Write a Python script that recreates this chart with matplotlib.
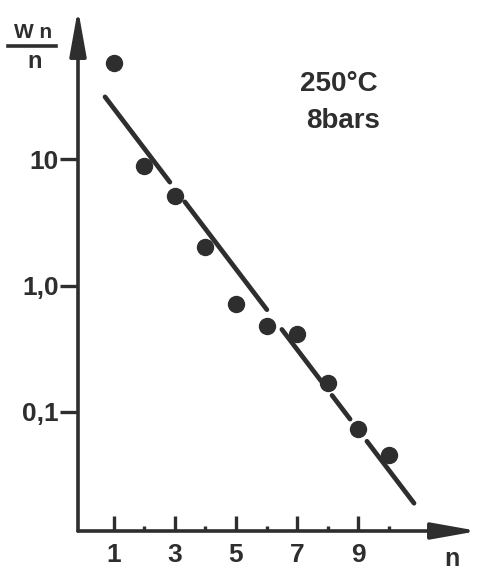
import numpy as np
import matplotlib.pyplot as plt

# measured points  Wn/n  vs  n
n_vals = [1, 2, 3, 4, 5, 6, 7, 8, 9, 10]
wn_vals = [57.0, 8.8, 5.1, 2.0, 0.71, 0.48, 0.41, 0.17, 0.073, 0.046]

# fitted straight line (log scale), drawn with gaps where it crosses the dots
fit_n = [0.72, 10.82]
fit_w = [31.0, 0.019]
fit_pieces = [(0.72, 2.84), (3.33, 6.01), (6.50, 7.78), (8.14, 8.73), (9.28, 10.82)]

x_major = [1, 3, 5, 7, 9]
x_minor = [2, 4, 6, 8, 10]
y_ticks = [0.1, 1, 10]
y_labels = ["0,1", "1,0", "10"]

INK = "#2e2e2e"
FONT = "Liberation Sans"

fig = plt.figure(figsize=(4.81, 5.73), dpi=100)
ax = fig.add_axes([78 / 481, 42 / 573, 400 / 481, 522 / 573])
ax.set_yscale("log")
ax.set_xlim(-0.163, 12.91)
ax.set_ylim(0.01146, 153.5)

for s in ax.spines.values():
    s.set_visible(False)

# axes drawn as arrows
arrow = dict(arrowstyle="-|>,head_length=2.8,head_width=0.5", lw=2.6,
             color=INK, shrinkA=0, shrinkB=0)
ax.annotate("", xy=(0, 1), xytext=(0, 0), xycoords="axes fraction", arrowprops=arrow)
ax.annotate("", xy=(1, 0), xytext=(0, 0), xycoords="axes fraction", arrowprops=arrow)

# fit line
lg0, lg1 = np.log10(fit_w)
slope = (lg1 - lg0) / (fit_n[1] - fit_n[0])
for a, b in fit_pieces:
    xs = np.array([a, b])
    ys = 10 ** (lg0 + slope * (xs - fit_n[0]))
    ax.plot(xs, ys, color=INK, lw=3.4, solid_capstyle="round")

ax.plot(n_vals, wn_vals, "o", color=INK, markersize=11.5, mec=INK)

# ticks
ax.set_xticks(x_major)
ax.set_xticklabels([str(v) for v in x_major])
ax.set_xticks(x_minor, minor=True)
ax.tick_params(axis="x", which="major", direction="in", length=11, width=2.4,
               color=INK, pad=9, labelsize=19, labelcolor=INK)
ax.tick_params(axis="x", which="minor", direction="in", length=3.5, width=2.4,
               color=INK)
ax.set_yticks(y_ticks)
ax.set_yticklabels(y_labels)
ax.yaxis.set_minor_locator(plt.NullLocator())
ax.tick_params(axis="y", which="major", direction="out", length=13, width=2.4,
               color=INK, pad=1, labelsize=19, labelcolor=INK)
for lab in ax.get_xticklabels() + ax.get_yticklabels():
    lab.set_fontfamily(FONT)
    lab.set_fontweight("bold")

# annotations
fig.text(339 / 481, 1 - 84 / 573, "250°C", ha="center", va="center",
         fontsize=20, fontweight="bold", family=FONT, color=INK)
fig.text(343 / 481, 1 - 121 / 573, "8bars", ha="center", va="center",
         fontsize=20, fontweight="bold", family=FONT, color=INK)

fig.text(452 / 481, 1 - 559 / 573, "n", ha="center", va="center", fontsize=18,
         fontweight="bold", family=FONT, color=INK)
fig.text(33 / 481, 1 - 33 / 573, "W n", ha="center", va="center",
         fontsize=15, fontweight="bold", family=FONT, color=INK)
fig.add_artist(plt.Line2D([8 / 481, 56 / 481], [1 - 46 / 573] * 2, color=INK, lw=2.6))
fig.text(35 / 481, 1 - 61 / 573, "n", ha="center", va="center", fontsize=17,
         fontweight="bold", family=FONT, color=INK)

fig.savefig("out.png", dpi=100)
